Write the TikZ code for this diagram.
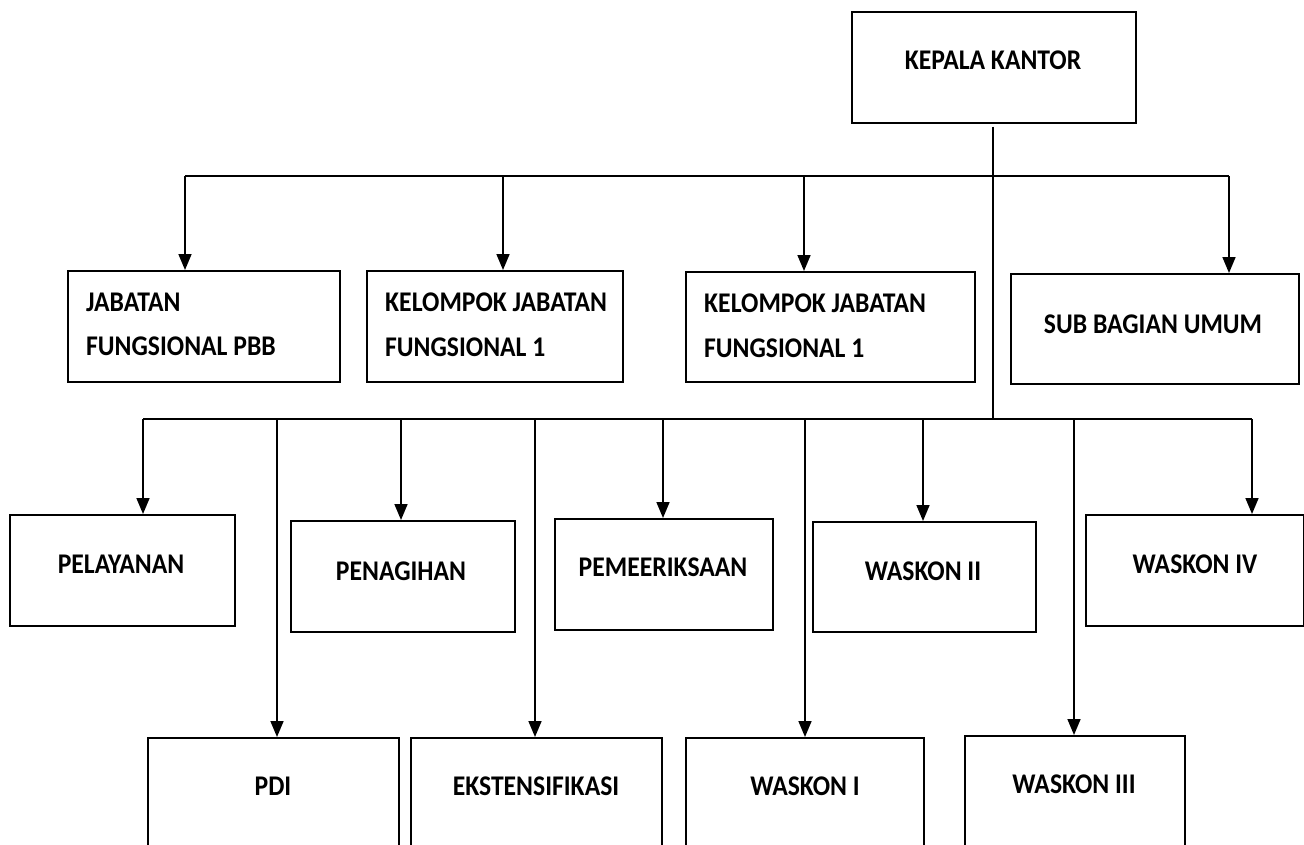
\documentclass[tikz,border=0pt]{standalone}
\usepackage{fontspec}
\setmainfont[FakeStretch=0.9]{Carlito}
\usetikzlibrary{arrows.meta}
\begin{document}
\begin{tikzpicture}[x=1pt,y=-1pt,
  box/.style={draw, line width=1.7pt, inner sep=0pt, anchor=north west},
  lbl/.style={font=\fontsize{28.5}{32}\selectfont\bfseries, inner sep=0pt, anchor=base},
  lbll/.style={lbl, anchor=base west},
  arr/.style={line width=1.7pt, -{Triangle[width=13pt,length=16pt]}},
  ln/.style={line width=1.7pt}]
\useasboundingbox (0,0) rectangle (1304,844);
\clip (0,0) rectangle (1304,844);
% top
\node[box, minimum width=284pt, minimum height=111pt] (kk) at (851,11) {};
\node[lbl] (tkk) at (993,69) {KEPALA KANTOR};
% row 1 boxes
\node[box, minimum width=272pt, minimum height=111pt] (b1) at (67,270) {};
\node[lbll] (tb1a) at (86,311) {JABATAN};
\node[lbll] (tb1b) at (86,355) {FUNGSIONAL PBB};
\node[box, minimum width=256pt, minimum height=111pt] (b2) at (366,270) {};
\node[lbll] (tb2a) at (385,311) {KELOMPOK JABATAN};
\node[lbll] (tb2b) at (385,356) {FUNGSIONAL 1};
\node[box, minimum width=289pt, minimum height=110pt] (b3) at (685,271) {};
\node[lbll] (tb3a) at (704,312) {KELOMPOK JABATAN};
\node[lbll] (tb3b) at (704,357) {FUNGSIONAL 1};
\node[box, minimum width=288pt, minimum height=110pt] (b4) at (1010,273) {};
\node[lbl] (tb4) at (1153,333) {SUB BAGIAN UMUM};
% row 2 boxes
\node[box, minimum width=225pt, minimum height=111pt] (c1) at (9,514) {};
\node[lbl] (tc1) at (121,573) {PELAYANAN};
\node[box, minimum width=224pt, minimum height=111pt] (c2) at (290,520) {};
\node[lbl] (tc2) at (401,580) {PENAGIHAN};
\node[box, minimum width=218pt, minimum height=111pt] (c3) at (554,518) {};
\node[lbl] (tc3) at (663,576) {PEMEERIKSAAN};
\node[box, minimum width=223pt, minimum height=110pt] (c4) at (812,521) {};
\node[lbl] (tc4) at (923,580) {WASKON II};
\node[box, minimum width=218pt, minimum height=111pt] (c5) at (1085,514) {};
\node[lbl] (tc5) at (1195,573) {WASKON IV};
% row 3 boxes (cut off by the bottom edge)
\node[box, minimum width=251pt, minimum height=160pt] (d1) at (147,737) {};
\node[lbl] (td1) at (273,795) {PDI};
\node[box, minimum width=251pt, minimum height=160pt] (d2) at (410,737) {};
\node[lbl] (td2) at (536,795) {EKSTENSIFIKASI};
\node[box, minimum width=238pt, minimum height=160pt] (d3) at (685,737) {};
\node[lbl] (td3) at (805,795) {WASKON I};
\node[box, minimum width=220pt, minimum height=160pt] (d4) at (964,735) {};
\node[lbl] (td4) at (1074,793) {WASKON III};
% bus coordinates
\coordinate (kb) at (993,419);
\coordinate (t1) at (185,176);
\coordinate (t2) at (503,176);
\coordinate (t3) at (804,176);
\coordinate (t4) at (1229,176);
\coordinate (r1) at (143,419);
\coordinate (r2) at (277,419);
\coordinate (r3) at (401,419);
\coordinate (r4) at (535,419);
\coordinate (r5) at (663,419);
\coordinate (r6) at (805,419);
\coordinate (r7) at (923,419);
\coordinate (r8) at (1074,419);
\coordinate (r9) at (1252,419);
% connectors
\draw[ln] (kk.south -| kb) ++(0,3) -- (kb);
\draw[ln] (t1) -- (t4);
\draw[ln] (r1) -- (r9);
\draw[arr] (t1) -- (t1 |- b1.north);
\draw[arr] (t2) -- (t2 |- b2.north);
\draw[arr] (t3) -- (t3 |- b3.north);
\draw[arr] (t4) -- (t4 |- b4.north);
\draw[arr] (r1) -- (r1 |- c1.north);
\draw[arr] (r3) -- (r3 |- c2.north);
\draw[arr] (r5) -- (r5 |- c3.north);
\draw[arr] (r7) -- (r7 |- c4.north);
\draw[arr] (r9) -- (r9 |- c5.north);
\draw[arr] (r2) -- (r2 |- d1.north);
\draw[arr] (r4) -- (r4 |- d2.north);
\draw[arr] (r6) -- (r6 |- d3.north);
\draw[arr] (r8) -- (r8 |- d4.north);
\end{tikzpicture}
\end{document}
